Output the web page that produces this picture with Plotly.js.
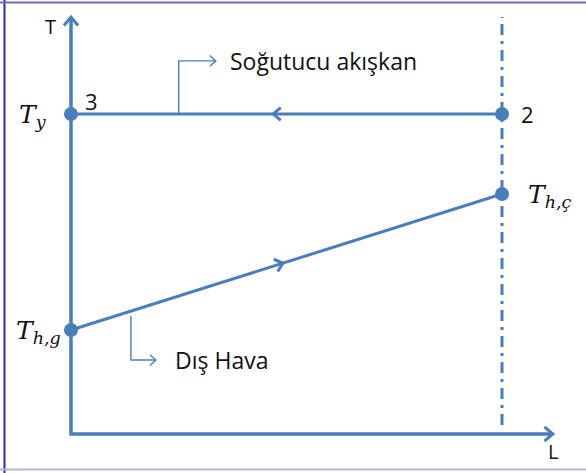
<!DOCTYPE html>
<html>
<head>
<meta charset="utf-8">
<script src="https://cdn.plot.ly/plotly-3.0.1.min.js"></script>
<style>
  html, body { margin: 0; padding: 0; background: #fff; }
  #chart { width: 586px; height: 473px; }
</style>
</head>
<body>
<div id="chart"></div>
<script>
// diagram units: L along the exchanger (0..10), T temperature (arbitrary)
const axisEndL = 11.18;
const axisEndT = 13.03;
const exitL = 10;

// refrigerant goes from state 2 back to state 3 at constant T_y
const refrigL = [10, 0];
const refrigT = [10, 10];
const refrigLabels = ["2", "3"];

// outdoor air heats up from T_h,g to T_h,ç
const airL = [0, 10];
const airT = [3.25, 7.5];

// dash-dot marker of the exchanger outlet
const outletT = [0.28, 13.03];

// flow arrows on the lines
const refrigArrowL = 4.69;
const airArrowL = 4.92;

// callouts: start L on the line, corner T, end L
const refrigCallout = { L: 2.5, T: 11.66, endL: 3.36, text: "Soğutucu akışkan" };
const airCallout = { L: 1.39, T: 2.31, endL: 1.97, text: "Dış Hava" };

const blue = "#4a7ebb";
const xRange = [-1.647, 11.949];
const yRange = [-1.219, 13.5625];
const W = 586, H = 473;
const sx = W / (xRange[1] - xRange[0]);
const sy = H / (yRange[1] - yRange[0]);

// open chevron at a tip, pointing along data direction (dL, dT)
function chevron(tipL, tipT, dL, dT, len, spread) {
  let px = dL * sx, py = -dT * sy;
  const n = Math.hypot(px, py);
  px /= n; py /= n;
  const a = (spread * Math.PI) / 180;
  const arm = (s) => {
    const bx = -px, by = -py;
    const rx = bx * Math.cos(s * a) - by * Math.sin(s * a);
    const ry = bx * Math.sin(s * a) + by * Math.cos(s * a);
    return [tipL + (rx * len) / sx, tipT - (ry * len) / sy];
  };
  const p1 = arm(1), p2 = arm(-1);
  return { x: [p1[0], tipL, p2[0]], y: [p1[1], tipT, p2[1]] };
}

function lineTrace(x, y, width, dash) {
  return {
    x: x, y: y, type: "scatter", mode: "lines", hoverinfo: "skip",
    line: { color: blue, width: width, dash: dash || "solid" },
  };
}

const airSlope = (airT[1] - airT[0]) / (airL[1] - airL[0]);
const airAt = (l) => airT[0] + airSlope * (l - airL[0]);

const traces = [];
// axes
traces.push(lineTrace([0, 0, axisEndL], [axisEndT, 0, 0], 3.5));
let c = chevron(0, axisEndT, 0, 1, 11, 40);
traces.push(lineTrace(c.x, c.y, 3));
c = chevron(axisEndL, 0, 1, 0, 11, 40);
traces.push(lineTrace(c.x, c.y, 3));
// outlet line
traces.push(lineTrace([exitL, exitL], outletT, 3, "11px,6px,3px,6px"));
// process lines
traces.push(lineTrace(refrigL, refrigT, 3));
traces.push(lineTrace(airL, airT, 3));
c = chevron(refrigArrowL, refrigT[0], -1, 0, 10, 40);
traces.push(lineTrace(c.x, c.y, 3));
c = chevron(airArrowL, airAt(airArrowL), 1, airSlope, 10, 40);
traces.push(lineTrace(c.x, c.y, 3));
// callouts
traces.push(lineTrace([refrigCallout.L, refrigCallout.L, refrigCallout.endL],
  [refrigT[0], refrigCallout.T, refrigCallout.T], 1.4));
c = chevron(refrigCallout.endL, refrigCallout.T, 1, 0, 8, 42);
traces.push(lineTrace(c.x, c.y, 1.4));
traces.push(lineTrace([airCallout.L, airCallout.L, airCallout.endL],
  [airAt(airCallout.L) - 0.15, airCallout.T, airCallout.T], 1.4));
c = chevron(airCallout.endL, airCallout.T, 1, 0, 8, 42);
traces.push(lineTrace(c.x, c.y, 1.4));
// state points
traces.push({
  x: refrigL.concat(airL), y: refrigT.concat(airT),
  type: "scatter", mode: "markers", hoverinfo: "skip",
  marker: { color: blue, size: 14 },
});

const sans = "Open Sans, sans-serif";
const serif = "DejaVu Serif, serif";
const ink = "#111";
const txt = (x, y, text, opts) => Object.assign({
  x: x, y: y, text: text, showarrow: false, xref: "x", yref: "y",
  xanchor: "left", yanchor: "middle",
  font: { family: sans, size: 22, color: ink },
}, opts || {});
const mathFont = { family: serif, size: 25, color: ink };
const calloutFont = { family: sans, size: 23, color: ink };

const annotations = [
  txt(-0.3, axisEndT - 0.3, "T", { xanchor: "right", font: { family: sans, size: 20, color: ink } }),
  txt(axisEndL, -0.55, "L", { xanchor: "center", font: { family: sans, size: 20, color: ink } }),
  txt(0.28, refrigT[1] + 0.42, refrigLabels[1]),
  txt(refrigL[0] + 0.4, refrigT[0], refrigLabels[0]),
  txt(refrigCallout.endL + 0.28, refrigCallout.T, refrigCallout.text, { font: calloutFont }),
  txt(airCallout.endL + 0.4, airCallout.T, airCallout.text, { font: calloutFont }),
  txt(-0.5, refrigT[1] - 0.05, "<i>T</i><sub><i>y</i></sub>", { xanchor: "right", font: mathFont }),
  txt(-0.18, airT[0] - 0.05, "<i>T</i><sub><i>h,g</i></sub>", { xanchor: "right", font: mathFont }),
  txt(airL[1] + 0.55, airT[1] - 0.05, "<i>T</i><sub><i>h,ç</i></sub>", { font: mathFont }),
];

const shapes = [
  { type: "line", xref: "paper", yref: "paper", x0: 4.5 / W, x1: 4.5 / W, y0: 0, y1: 1,
    line: { color: "#2a2aa0", width: 2 } },
  { type: "line", xref: "paper", yref: "paper", x0: 0, x1: 1, y0: 1 - 2.5 / H, y1: 1 - 2.5 / H,
    line: { color: "#6c6cb0", width: 2 } },
  { type: "line", xref: "paper", yref: "paper", x0: 0, x1: 1, y0: 1 - 469.5 / H, y1: 1 - 469.5 / H,
    line: { color: "#b4b4e0", width: 2 } },
];

const layout = {
  width: W,
  height: H,
  margin: { t: 0, b: 0, l: 0, r: 0 },
  paper_bgcolor: "#ffffff",
  plot_bgcolor: "#ffffff",
  showlegend: false,
  xaxis: { range: xRange, visible: false, fixedrange: true },
  yaxis: { range: yRange, visible: false, fixedrange: true },
  annotations: annotations,
  shapes: shapes,
};

Plotly.newPlot("chart", traces, layout, { displayModeBar: false, staticPlot: true });
</script>
</body>
</html>
